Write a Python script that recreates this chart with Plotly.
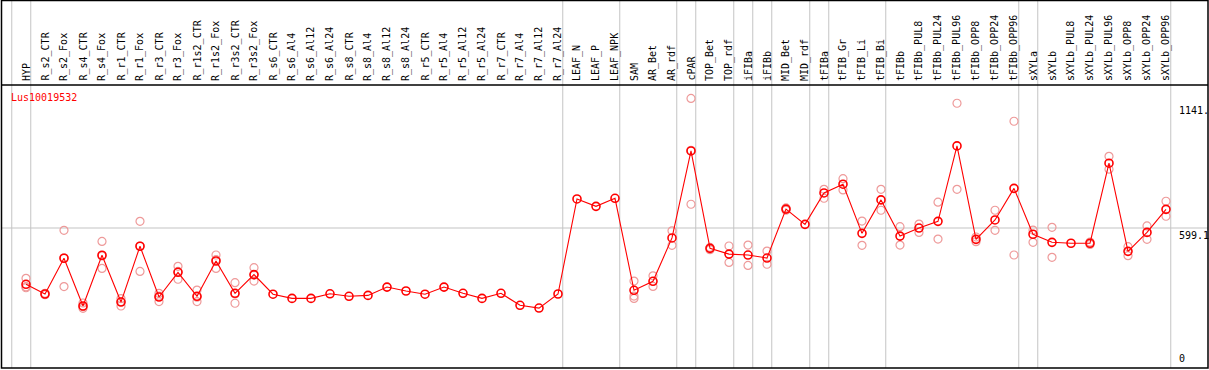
import plotly.graph_objects as go

W, H = 1209, 370

categories = ["HYP", "R_s2_CTR", "R_s2_Fox", "R_s4_CTR", "R_s4_Fox", "R_r1_CTR", "R_r1_Fox",
              "R_r3_CTR", "R_r3_Fox", "R_r1s2_CTR", "R_r1s2_Fox", "R_r3s2_CTR", "R_r3s2_Fox",
              "R_s6_CTR", "R_s6_Al4", "R_s6_Al12", "R_s6_Al24", "R_s8_CTR", "R_s8_Al4",
              "R_s8_Al12", "R_s8_Al24", "R_r5_CTR", "R_r5_Al4", "R_r5_Al12", "R_r5_Al24",
              "R_r7_CTR", "R_r7_Al4", "R_r7_Al12", "R_r7_Al24", "LEAF_N", "LEAF_P", "LEAF_NPK",
              "SAM", "AR_Bet", "AR_rdf", "cPAR", "TOP_Bet", "TOP_rdf", "iFIBa", "iFIBb",
              "MID_Bet", "MID_rdf", "tFIBa", "tFIB_Gr", "tFIB_Li", "tFIB_Bi", "tFIBb",
              "tFIBb_PUL8", "tFIBb_PUL24", "tFIBb_PUL96", "tFIBb_OPP8", "tFIBb_OPP24",
              "tFIBb_OPP96", "sXYLa", "sXYLb", "sXYLb_PUL8", "sXYLb_PUL24", "sXYLb_PUL96",
              "sXYLb_OPP8", "sXYLb_OPP24", "sXYLb_OPP96"]

means = [355, 313, 468, 261, 481, 278, 520, 300, 407, 303, 456, 316, 397,
         312, 294, 294, 314, 303, 307, 343, 326, 312, 343, 316, 294, 316, 264, 252, 313,
         725, 693, 728, 329, 368, 556, 933, 511, 486, 482, 469, 681, 615, 751, 789, 576,
         721, 564, 599, 628, 955, 550, 634, 771, 572, 537, 533, 533, 880, 498, 580, 680]

replicates = [[381, 340, 344], [316, 310], [589, 345, 470], [251, 258, 274], [541, 424, 478],
              [261, 280, 293], [628, 411, 521], [316, 280, 304], [433, 377, 411],
              [330, 280, 299], [482, 424, 462], [362, 273, 313], [427, 369, 395],
              [], [], [], [], [], [], [], [], [], [], [], [], [], [], [], [],
              [], [], [],
              [369, 304, 294], [392, 346], [587, 524], [1161, 702, 936], [505, 515],
              [521, 450], [525, 437], [499, 442], [676, 686], [], [767, 728], [813, 764],
              [629, 524], [767, 676], [605, 525], [616, 580], [711, 551], [1140, 767],
              [540, 560], [676, 589], [1062, 482], [590, 537], [602, 472], [], [538, 528],
              [910, 854], [518, 479], [608, 550], [715, 650]]

group_ends = [-1, 0, 28, 31, 34, 35, 37, 38, 39, 41, 42, 45, 52, 53, 60]
ref_lines = [599.1]
value_labels = ["1141.", "599.1", "0"]
value_label_pos = [1141, 599.1, 0]
gene = "Lus10019532"

# pixel geometry helpers
x0_px, dx_px = 26.0, 19.0
y0_px, dy_px = 366.2, 0.23067
xr = [(0 - x0_px) / dx_px, (W - x0_px) / dx_px]
yr = [(y0_px - H) / dy_px, y0_px / dy_px]

def py(px):  # pixel y -> paper
    return 1 - px / H

def pxx(px):  # pixel x -> paper
    return px / W

xs = list(range(len(categories)))
rx, ry = [], []
for i, reps in enumerate(replicates):
    for v in reps:
        rx.append(i)
        ry.append(v)

fig = go.Figure()
fig.add_trace(go.Scatter(x=rx, y=ry, mode="markers",
                         marker=dict(symbol="circle-open", size=8, color="#EE9A9A",
                                     line=dict(width=1.2, color="#EE9A9A")),
                         hoverinfo="skip", showlegend=False))
fig.add_trace(go.Scatter(x=xs, y=means, mode="lines+markers",
                         line=dict(color="#FF0000", width=1.1),
                         marker=dict(symbol="circle-open", size=8, color="#FF0000",
                                     line=dict(width=1.6, color="#FF0000")),
                         showlegend=False))

shapes = []
for g in group_ends:
    shapes.append(dict(type="line", xref="x", yref="paper", x0=g + 0.25, x1=g + 0.25,
                       y0=py(368), y1=py(0), line=dict(color="#C4C4C4", width=1),
                       layer="below"))
for r in ref_lines:
    shapes.append(dict(type="line", xref="paper", yref="y", x0=pxx(1), x1=pxx(1208),
                       y0=r, y1=r, line=dict(color="#C4C4C4", width=1.2), layer="below"))
# frame and header separator
shapes.append(dict(type="rect", xref="paper", yref="paper", x0=pxx(1.5), x1=pxx(1208),
                   y0=py(368), y1=py(0.5), line=dict(color="black", width=1.5)))
shapes.append(dict(type="line", xref="paper", yref="paper", x0=pxx(1), x1=pxx(1208),
                   y0=py(85), y1=py(85), line=dict(color="black", width=1.6)))

font = "DejaVu Sans Mono"
ann = []
for i, c in enumerate(categories):
    ann.append(dict(x=i, xref="x", y=py(83), yref="paper", text=c, textangle=-90,
                    showarrow=False, xanchor="center", yanchor="bottom",
                    font=dict(family=font, size=10, color="black")))
for t, v in zip(value_labels, value_label_pos):
    ann.append(dict(x=pxx(1177), xref="paper", y=v, yref="y", text=t, showarrow=False,
                    xanchor="left", yanchor="bottom" if v == 0 else "top",
                    font=dict(family=font, size=10, color="black")))
ann.append(dict(x=pxx(9), xref="paper", y=py(97), yref="paper", text=gene, showarrow=False,
                xanchor="left", yanchor="middle", font=dict(family=font, size=10, color="#FF0000")))

fig.update_layout(width=W, height=H, margin=dict(l=0, r=0, t=0, b=0),
                  paper_bgcolor="white", plot_bgcolor="white",
                  xaxis=dict(range=xr, visible=False, showgrid=False, zeroline=False),
                  yaxis=dict(range=yr, visible=False, showgrid=False, zeroline=False),
                  shapes=shapes, annotations=ann)
fig.write_html("out.html", config={"displayModeBar": False},
               post_script="document.body.style.margin='0';document.body.style.overflow='hidden';")
